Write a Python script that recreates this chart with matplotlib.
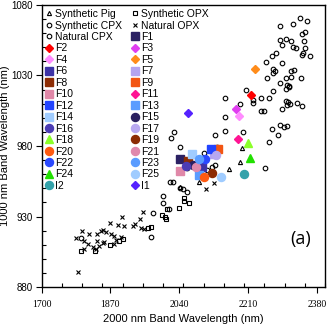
"""Band I vs band II centres for pyroxene lab data and the F/I spots.

Writes out.png (327x327). Points read off the original figure.
"""
import matplotlib
matplotlib.use("Agg")
import matplotlib.pyplot as plt
from matplotlib.ticker import MultipleLocator, FixedLocator

# background lab data: (2000 nm centre, 1000 nm centre)
syn_pig_x = [2090, 2164, 2189, 2194, 2041]
syn_pig_y = [954.3, 963.7, 968.9, 978.8, 951.2]

syn_opx_x = [1797, 1831, 1869, 1892, 1902, 1962, 1970, 1997, 2004, 2008,
             2040, 2053, 2053, 2063, 2011]
syn_opx_y = [905.8, 905.8, 909.8, 912.9, 913.9, 922.1, 922.4, 931.1, 929.9, 928.0,
             935.9, 943.4, 941.0, 939.8, 935.1]

syn_cpx_x = [1798, 1970, 1975, 2000, 2000, 2014, 2016, 2025, 2043, 2049, 2059, 2059]
syn_cpx_y = [915.0, 915.3, 932.7, 944.6, 939.4, 935.4, 954.7, 954.7, 950.5, 949.3,
             947.2, 964.2]

nat_opx_x = [1791, 1785, 1800, 1806, 1805, 1814, 1818, 1826, 1835, 1837, 1837, 1843,
             1847, 1853, 1858, 1851, 1855, 1870, 1871, 1879, 1880, 1883, 1890, 1896,
             1903, 1899, 1926, 1931, 1944, 1951, 1946, 1952, 2107, 2125]
nat_opx_y = [890.9, 914.6, 920.0, 912.7, 906.8, 910.5, 917.6, 908.2, 907.0, 917.6,
             912.9, 909.1, 919.8, 920.5, 918.8, 911.5, 912.0, 925.2, 917.6, 916.4,
             910.5, 913.4, 924.0, 915.7, 923.5, 929.5, 923.3, 924.5, 928.0, 933.0,
             921.7, 921.2, 949.5, 953.6]

nat_cpx_x = [2338, 2355, 2322, 2290, 2350, 2342, 2290, 2303, 2315, 2348, 2294, 2321,
             2329, 2350, 2346, 2344, 2362, 2280, 2268, 2253, 2294, 2271, 2276, 2272,
             2315, 2323, 2257, 2303, 2315, 2341, 2290, 2307, 2310, 2312, 2304, 2272,
             2204, 2242, 2262, 2222, 2222, 2303, 2309, 2313, 2307, 2332, 2342, 2242,
             2249, 2294, 2289, 2298, 2305, 2270, 2284, 2261, 2198, 2251, 2152, 2189,
             2154, 2028, 2020, 2128, 2154, 2043, 2134, 2100, 2109, 2121, 2129]
nat_cpx_y = [1070.6, 1068.9, 1066.5, 1065.3, 1061.0, 1059.2, 1055.2, 1055.7, 1054.7,
             1054.5, 1051.4, 1050.4, 1049.7, 1049.3, 1045.8, 1044.6, 1043.8, 1046.2,
             1043.8, 1039.8, 1039.1, 1034.6, 1033.0, 1031.6, 1033.4, 1033.9, 1028.0,
             1028.0, 1029.2, 1028.0, 1024.5, 1023.3, 1022.6, 1021.9, 1020.2, 1019.0,
             1019.7, 1014.3, 1014.1, 1012.6, 1010.7, 1011.9, 1011.0, 1009.8, 1009.1,
             1010.3, 1008.4, 1004.8, 1004.8, 1006.0, 994.9, 993.3, 994.2, 991.9,
             987.8, 983.1, 990.2, 964.6, 1014.3, 1009.6, 1000.4, 990.2, 985.5, 987.8,
             990.7, 979.5, 979.5, 974.9, 963.0, 965.4, 966.6]

# spectra of the F / I spots
spot_names = [f"F{i}" for i in range(1, 26)] + ["I2", "I1"]
spot_x = [2043, 2217, 2181, 2187, 2226, 2095, 2127, 2061, 2135, 2043,
          2185, 2119, 2090, 2072, 2073, 2057, 2131, 2209, 2121, 2102,
          2082, 2103, 2088, 2214, 2142, 2201, 2061]
spot_y = [970.6, 1016.0, 1006.0, 1001.0, 1034.6, 965.4, 974.0, 969.4, 977.7, 962.3,
          984.8, 977.7, 959.5, 974.4, 966.6, 966.0, 973.7, 982.2, 961.1, 958.3,
          964.9, 970.6, 970.6, 971.3, 958.3, 960.0, 1003.6]
spot_marker = ["s", "D", "D", "D", "D", "s", "s", "s", "s", "s",
               "D", "s", "s", "s", "o", "o", "o", "^", "o", "o",
               "o", "o", "o", "^", "o", "o", "D"]
spot_color = ["#2b2163", "#ff0000", "#e03ef0", "#ff8cff", "#ff8c1a", "#3d33a6",
              "#b4a4f0", "#8c2c04", "#f25512", "#e088a8", "#ff1493", "#2244ff",
              "#5a9cff", "#a0ccff", "#2a2060", "#4c3cb4", "#b8a8f0", "#8cff2a",
              "#8c2c04", "#ff5a10", "#e088ac", "#2a48ff", "#5a9cff", "#22e000",
              "#a0ccff", "#33a2aa", "#5522ff"]

X_TICKS = [1700, 1870, 2040, 2210, 2380]
Y_TICKS = [880, 930, 980, 1030, 1080]


def open_series(ax, x, y, marker, size, label):
    return ax.plot(x, y, ls="none", marker=marker, ms=size, mfc="none", mec="black",
                   mew=0.8, label=label)[0]


def main():
    fig = plt.figure(figsize=(3.27, 3.27), dpi=100)
    ax = fig.add_axes([0.127, 0.122, 0.867, 0.863])

    handles = [
        open_series(ax, syn_pig_x, syn_pig_y, "^", 3.0, "Synthetic Pig"),
        open_series(ax, syn_opx_x, syn_opx_y, "s", 3.2, "Synthetic OPX"),
        open_series(ax, syn_cpx_x, syn_cpx_y, "o", 3.3, "Synthetic CPX"),
        ax.plot(nat_opx_x, nat_opx_y, ls="none", marker="x", ms=3.0, mec="black",
                mew=0.8, label="Natural OPX")[0],
        open_series(ax, nat_cpx_x, nat_cpx_y, "o", 3.3, "Natural CPX"),
    ]
    for name, x, y, m, c in zip(spot_names, spot_x, spot_y, spot_marker, spot_color):
        size = {"s": 5.4, "D": 4.4, "o": 5.8, "^": 5.8}[m]
        h, = ax.plot([x], [y], ls="none", marker=m, ms=size, mfc=c, mec=c, label=name)
        handles.append(h)

    ax.set_xlim(1700, 2400)
    ax.set_ylim(880, 1080)
    ax.xaxis.set_major_locator(FixedLocator(X_TICKS))
    ax.xaxis.set_minor_locator(MultipleLocator(50))
    ax.yaxis.set_major_locator(FixedLocator(Y_TICKS))
    ax.yaxis.set_minor_locator(MultipleLocator(10))
    ax.tick_params(which="major", direction="out", length=4, width=0.8)
    ax.tick_params(axis="y", which="major", pad=2)
    ax.tick_params(axis="x", which="major", pad=5)
    ax.tick_params(which="minor", direction="in", length=3, width=0.8)
    for lab in ax.get_xticklabels():
        lab.set_fontfamily("Liberation Serif")
        lab.set_fontsize(7)
    for lab in ax.get_yticklabels():
        lab.set_fontfamily("Liberation Sans")
        lab.set_fontsize(7)
    for sp in ax.spines.values():
        sp.set_linewidth(1.0)

    ax.set_xlabel("2000 nm Band Wavelength (nm)", fontsize=8, family="Liberation Sans",
                  labelpad=4)
    ax.set_ylabel("1000 nm Band Wavelength (nm)", fontsize=8, family="Liberation Sans")
    ax.yaxis.set_label_coords(-0.11, 0.5)
    ax.text(0.915, 0.17, "(a)", transform=ax.transAxes, fontsize=13,
            family="Open Sans", ha="center", va="center")

    # legend reads row by row, matplotlib fills column by column
    order = handles[0::2] + handles[1::2]
    ax.legend(handles=order, loc="upper left", ncol=2, frameon=False,
              prop={"family": "Liberation Sans", "size": 7.5},
              bbox_to_anchor=(0.0, 1.0), borderaxespad=0.2, handlelength=0.6,
              handletextpad=0.3, columnspacing=0.9, labelspacing=0.14,
              borderpad=0.2)

    fig.savefig("out.png", dpi=100)
    plt.close(fig)


if __name__ == "__main__":
    main()
